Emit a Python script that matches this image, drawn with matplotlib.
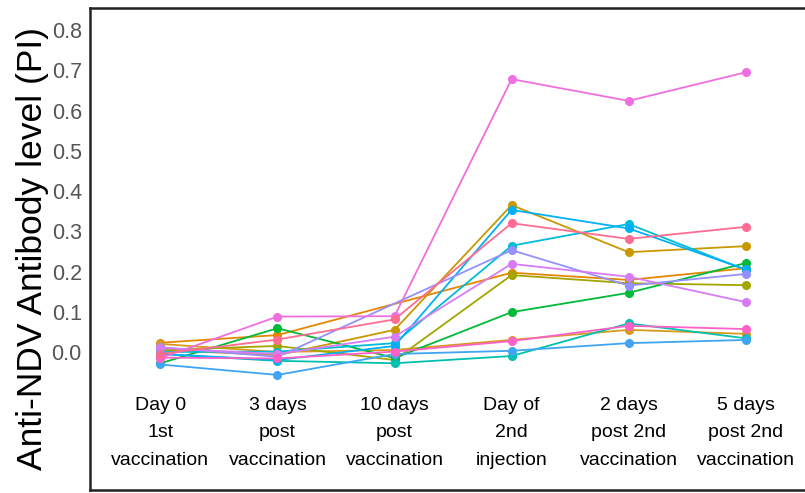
import numpy as np
import matplotlib
matplotlib.use("Agg")
import matplotlib.pyplot as plt

plt.rcParams['font.family'] = ['Liberation Sans', 'DejaVu Sans']

# time points (x axis categories)
timepoints = ["Day 0\n1st\nvaccination",
              "3 days\npost\nvaccination",
              "10 days\npost\nvaccination",
              "Day of\n2nd\ninjection",
              "2 days\npost 2nd\nvaccination",
              "5 days\npost 2nd\nvaccination"]

# antibody level (PI) per bird, NaN = not sampled
nan = np.nan
bird_magenta = [-0.015, 0.088, 0.089, 0.678, 0.624, 0.695]
bird_gold = [0.005, -0.008, 0.055, 0.365, 0.248, 0.263]
bird_orange = [0.023, 0.042, nan, 0.197, 0.179, 0.208]
bird_blue = [-0.005, -0.020, 0.015, 0.353, 0.307, 0.205]
bird_cyan = [0.000, 0.001, 0.022, 0.264, 0.318, 0.204]
bird_rose = [-0.005, 0.031, 0.081, 0.320, 0.281, 0.311]
bird_lavender = [0.012, -0.012, nan, 0.253, 0.165, 0.194]
bird_violet = [0.010, -0.005, 0.038, 0.219, 0.187, 0.124]
bird_olive = [0.005, 0.015, -0.020, 0.191, 0.171, 0.166]
bird_green = [-0.028, 0.059, -0.015, 0.099, 0.147, 0.221]
bird_pink = [-0.014, -0.016, 0.001, 0.027, 0.065, 0.057]
bird_amber = [0.020, 0.000, 0.005, 0.030, 0.055, 0.045]
bird_teal = [-0.005, -0.022, -0.028, -0.010, 0.071, 0.034]
bird_sky = [-0.031, -0.057, -0.005, 0.003, 0.022, 0.030]

birds = [
    (bird_orange, "#E58700"),
    (bird_amber, "#D89A1C"),
    (bird_gold, "#C99800"),
    (bird_olive, "#A3A500"),
    (bird_green, "#00BA38"),
    (bird_teal, "#00C0AF"),
    (bird_cyan, "#00BCD8"),
    (bird_blue, "#00B0F6"),
    (bird_sky, "#3FA4F2"),
    (bird_lavender, "#9590FF"),
    (bird_violet, "#D77CF5"),
    (bird_magenta, "#EE6FE0"),
    (bird_pink, "#FD61C8"),
    (bird_rose, "#FF6C91"),
]

fig = plt.figure(figsize=(8.05, 4.93), dpi=100)
ax = fig.add_axes([0.112, 0.006, 0.89, 0.978])

x = np.arange(len(timepoints))
for values, color in birds:
    y = np.array(values, dtype=float)
    ok = ~np.isnan(y)
    ax.plot(x[ok], y[ok], color=color, lw=1.3, marker='o', ms=5.5, zorder=2)

ax.set_xlim(-0.6, 5.52)
ax.set_ylim(-0.343, 0.855)
ax.set_yticks(np.arange(0, 0.81, 0.1))
ax.set_yticklabels([f"{v:.1f}" for v in np.arange(0, 0.81, 0.1)])
ax.tick_params(axis='y', length=0, pad=6, labelsize=15.5, labelcolor='#555555')
ax.set_xticks([])

# category labels sit inside the frame, under the lines
for i, lab in enumerate(timepoints):
    ax.text(i, -0.112, lab, ha='center', va='top', fontsize=14,
            linespacing=1.8, color='black')

ax.set_ylabel("Anti-NDV Antibody level (PI)", fontsize=25.5, labelpad=2)

for s in ax.spines.values():
    s.set_linewidth(1.8)
    s.set_color('#222222')

fig.savefig("out.png", dpi=100)
